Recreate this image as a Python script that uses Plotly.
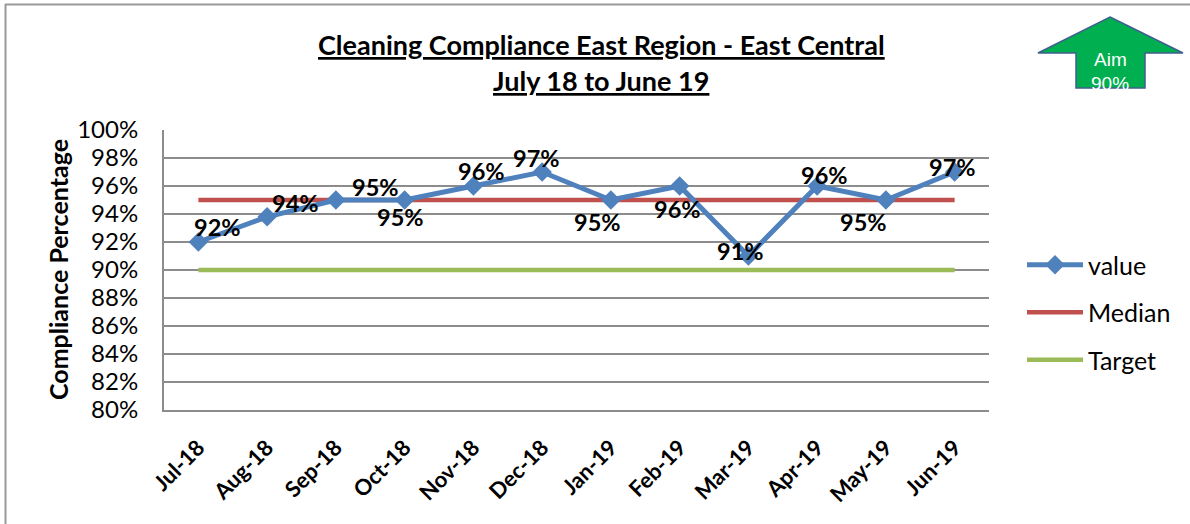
import plotly.graph_objects as go

# ---- data ----
months = ["Jul-18", "Aug-18", "Sep-18", "Oct-18", "Nov-18", "Dec-18",
          "Jan-19", "Feb-19", "Mar-19", "Apr-19", "May-19", "Jun-19"]
value = [0.92, 0.938, 0.95, 0.95, 0.96, 0.97, 0.95, 0.96, 0.91, 0.96, 0.95, 0.97]
median = [0.95] * 12
target = [0.90] * 12
y_ticks = [0.80, 0.82, 0.84, 0.86, 0.88, 0.90, 0.92, 0.94, 0.96, 0.98, 1.00]

# ---- styling ----
W, H = 1190, 524
L, R, T, B = 164, 989, 130, 410          # plot area in pixels
FONT = "Lato"
BLUE, RED, GREEN, GRID = "#4F81BD", "#C0504D", "#9BBB59", "#8C8C8C"

def px_x(p):
    return (p - L) / (R - L)

def px_y(p):
    return (B - p) / (B - T)

# data label offsets (pixels, x right / y up)
label_dx = [19, 28, 40, -4, 8, -6, -13, -2, -8, 7, -22, -2]
label_dy = [15, 14, 13, -17, 15, 14, -22, -23, 5, 11, -22, 5]

fig = go.Figure()
fig.add_trace(go.Scatter(x=months, y=median, mode="lines", name="Median",
                         line=dict(color=RED, width=4.5), legendrank=2,
                         legendgroup="b"))
fig.add_trace(go.Scatter(x=months, y=target, mode="lines", name="Target",
                         line=dict(color=GREEN, width=4.5), legendrank=3,
                         legendgroup="c"))
fig.add_trace(go.Scatter(x=months, y=value, mode="lines+markers", name="value",
                         line=dict(color=BLUE, width=5),
                         marker=dict(symbol="diamond", size=15, color=BLUE),
                         legendrank=1, legendgroup="a"))

annotations = []
for m, v, dx, dy in zip(months, value, label_dx, label_dy):
    annotations.append(dict(x=m, y=v, xref="x", yref="y", text=f"{v:.0%}",
                            showarrow=False, xshift=dx, yshift=dy,
                            font=dict(family=FONT, size=23.5, color="black",
                                      weight="bold")))

# titles
annotations.append(dict(x=px_x(601), y=px_y(45), xref="paper", yref="paper",
                        text="Cleaning Compliance East Region - East Central",
                        showarrow=False, xanchor="center", yanchor="middle",
                        font=dict(family=FONT, size=27, color="black",
                                  weight="bold", lineposition="under")))
annotations.append(dict(x=px_x(601), y=px_y(80), xref="paper", yref="paper",
                        text="July 18 to June 19",
                        showarrow=False, xanchor="center", yanchor="middle",
                        font=dict(family=FONT, size=27, color="black",
                                  weight="bold", lineposition="under")))
# y axis title
annotations.append(dict(x=px_x(58), y=px_y(270), xref="paper", yref="paper",
                        text="Compliance Percentage", textangle=-90,
                        showarrow=False, xanchor="center", yanchor="middle",
                        font=dict(family=FONT, size=25, color="black",
                                  weight="bold")))
# aim arrow text
annotations.append(dict(x=px_x(1110), y=px_y(59), xref="paper", yref="paper",
                        text="Aim", showarrow=False, xanchor="center",
                        yanchor="middle",
                        font=dict(family="Liberation Sans", size=19, color="white")))
annotations.append(dict(x=px_x(1110), y=px_y(84), xref="paper", yref="paper",
                        text="90%", showarrow=False, xanchor="center",
                        yanchor="middle",
                        font=dict(family="Liberation Sans", size=19, color="white")))

# arrow shape
pts = [(1110, 17), (1183, 53), (1145, 53), (1145, 88), (1076, 88),
       (1076, 53), (1038, 53)]
path = "M " + " L ".join(f"{px_x(a):.5f},{px_y(b):.5f}" for a, b in pts) + " Z"
shapes = [
    dict(type="path", path=path, xref="paper", yref="paper",
         fillcolor="#00B050", line=dict(color="#3F5F8F", width=1.5),
         layer="above"),
    # chart outer border (left and top)
    dict(type="line", xref="paper", yref="paper",
         x0=px_x(5.5), x1=px_x(5.5), y0=px_y(4), y1=px_y(H + 5),
         line=dict(color="#9A9A9A", width=2)),
    dict(type="line", xref="paper", yref="paper",
         x0=px_x(5), x1=px_x(W + 5), y0=px_y(4.5), y1=px_y(4.5),
         line=dict(color="#9A9A9A", width=2)),
]

fig.update_layout(
    width=W, height=H,
    margin=dict(l=L, r=W - R, t=T, b=H - B, pad=0),
    paper_bgcolor="white", plot_bgcolor="white",
    font=dict(family=FONT, color="black"),
    showlegend=True,
    legend=dict(x=px_x(1022), y=px_y(242), xanchor="left", yanchor="top",
                font=dict(family=FONT, size=25, color="black"),
                tracegroupgap=12, itemwidth=56, bgcolor="rgba(0,0,0,0)"),
    annotations=annotations,
    shapes=shapes,
    xaxis=dict(type="category", range=[-0.5, 11.5], showgrid=False,
               showline=True, linecolor=GRID, linewidth=2,
               tickangle=-45, ticks="outside", ticklen=0,
               ticklabelstandoff=14,
               tickfont=dict(family=FONT, size=22, color="black", weight="bold"),
               fixedrange=True),
    yaxis=dict(range=[0.80, 1.00], tickvals=y_ticks, tickformat=".0%",
               showgrid=True, gridcolor=GRID, gridwidth=2,
               showline=True, linecolor=GRID, linewidth=2, zeroline=False,
               ticks="outside", ticklen=0, ticklabelstandoff=19,
               tickfont=dict(family=FONT, size=24, color="black")),
)

fig.write_html("out.html", config={"displayModeBar": False},
               post_script="document.body.style.margin='0';"
                           "document.body.style.overflow='hidden';")
